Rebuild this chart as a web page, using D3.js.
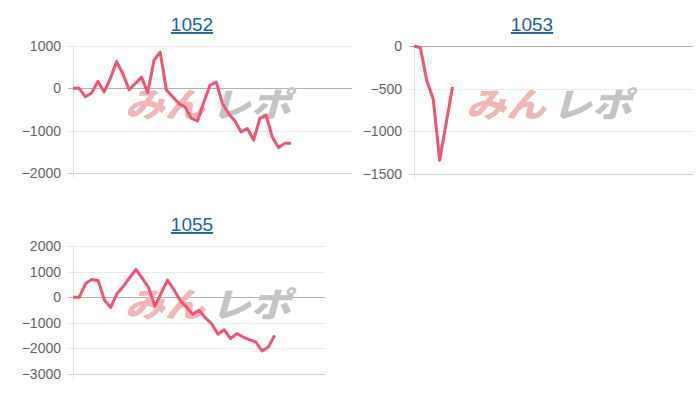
<!DOCTYPE html>
<html><head><meta charset="utf-8">
<script src="https://cdn.jsdelivr.net/npm/d3@7"></script>
<style>
html,body{margin:0;padding:0;background:#fff;}
svg{display:block;}
</style></head>
<body>
<svg id="c" width="700" height="400"></svg>
<script>
// ---- data ----
const titles = ["1052", "1053", "1055"];
const values1052 = [0, 0, -200, -110, 165, -85, 230, 635, 345, -30, 110, 265, -100, 660, 855, -40, -200, -360, -440, -710, -770, -330, 70, 150, -360, -600, -770, -1030, -950, -1220, -710, -630, -1150, -1400, -1300, -1300];
const values1053 = [0, -20, -410, -620, -1340, -910, -480];
const values1055 = [0, 0, 535, 690, 640, -120, -400, 145, 430, 760, 1085, 740, 380, -350, 160, 665, 300, -120, -380, -665, -510, -800, -1030, -1450, -1270, -1620, -1425, -1555, -1660, -1750, -2100, -1950, -1490];
const ticks1052 = [1000, 0, -1000, -2000];
const ticks1053 = [0, -500, -1000, -1500];
const ticks1055 = [2000, 1000, 0, -1000, -2000, -3000];
const slots = [44.8, 43.5, 40];
const watermarkA = "みん";
const watermarkB = "レポ";

// ---- layout ----
const panels = [
  {title: titles[0], values: values1052, ticks: ticks1052, slots: slots[0], left: 73, right: 352, top: 46, bottom: 173, titleX: 192, titleY: 31},
  {title: titles[1], values: values1053, ticks: ticks1053, slots: slots[1], left: 414, right: 693, top: 46, bottom: 174, titleX: 532, titleY: 31},
  {title: titles[2], values: values1055, ticks: ticks1055, slots: slots[2], left: 73, right: 325, top: 246, bottom: 374, titleX: 192, titleY: 231}
];

const svg = d3.select("#c");
const lineColor = "#ef5672";

panels.forEach(p => {
  const g = svg.append("g");
  const x = d3.scaleLinear().domain([0, p.slots]).range([p.left, p.right]);
  const y = d3.scaleLinear().domain(d3.extent(p.ticks)).range([p.bottom, p.top]);

  // grid lines
  const axis = d3.axisLeft(y).tickValues(p.ticks).tickSize(-(p.right - p.left)).tickPadding(12).tickFormat(d3.format("d"));
  const ag = g.append("g").attr("transform", `translate(${p.left},0)`).call(axis);
  ag.select(".domain").remove();
  ag.selectAll(".tick line")
    .attr("x1", -5)
    .attr("stroke", d => d === 0 ? "#b4b4b4" : (d === d3.min(p.ticks) ? "#d2d2d2" : "#ebebeb"))
    .attr("stroke-width", 1)
    .attr("shape-rendering", "crispEdges");
  ag.selectAll(".tick text")
    .attr("fill", "#666")
    .attr("font-family", "Liberation Sans, Arial, sans-serif")
    .attr("font-size", 14);

  // vertical axis line
  g.append("line")
    .attr("x1", p.left).attr("x2", p.left)
    .attr("y1", p.top).attr("y2", p.bottom + 5)
    .attr("stroke", "#e0e0e0").attr("shape-rendering", "crispEdges");

  // watermark
  const wx = p.left + 52, wy = p.top + 71;
  const sk = `skewX(-15) translate(${wy * Math.tan(15 * Math.PI / 180)},0)`;
  g.append("text")
    .attr("x", wx).attr("y", wy)
    .attr("font-family", "Noto Sans CJK JP, sans-serif")
    .attr("font-weight", 900)
    .attr("font-size", 34)
    .attr("textLength", 80).attr("lengthAdjust", "spacingAndGlyphs")
    .attr("fill", "#f2b6b6")
    .attr("transform", sk)
    .text(watermarkA);
  g.append("text")
    .attr("x", wx + 86).attr("y", wy)
    .attr("font-family", "Noto Sans CJK JP, sans-serif")
    .attr("font-weight", 900)
    .attr("font-size", 34)
    .attr("textLength", 80).attr("lengthAdjust", "spacingAndGlyphs")
    .attr("fill", "#c4c4c4")
    .attr("transform", sk)
    .text(watermarkB);

  // line
  const line = d3.line().x((d, i) => x(i)).y(d => y(d));
  g.append("path")
    .datum(p.values)
    .attr("d", line)
    .attr("fill", "none")
    .attr("stroke", lineColor)
    .attr("stroke-width", 3)
    .attr("stroke-linejoin", "round")
    .attr("stroke-linecap", "butt");

  // title
  g.append("text")
    .attr("x", p.titleX).attr("y", p.titleY)
    .attr("text-anchor", "middle")
    .attr("font-family", "Liberation Sans, Arial, sans-serif")
    .attr("font-size", 19)
    .attr("fill", "#1a64b0")
    .attr("text-decoration", "underline")
    .text(p.title);
});
</script>
</body></html>
